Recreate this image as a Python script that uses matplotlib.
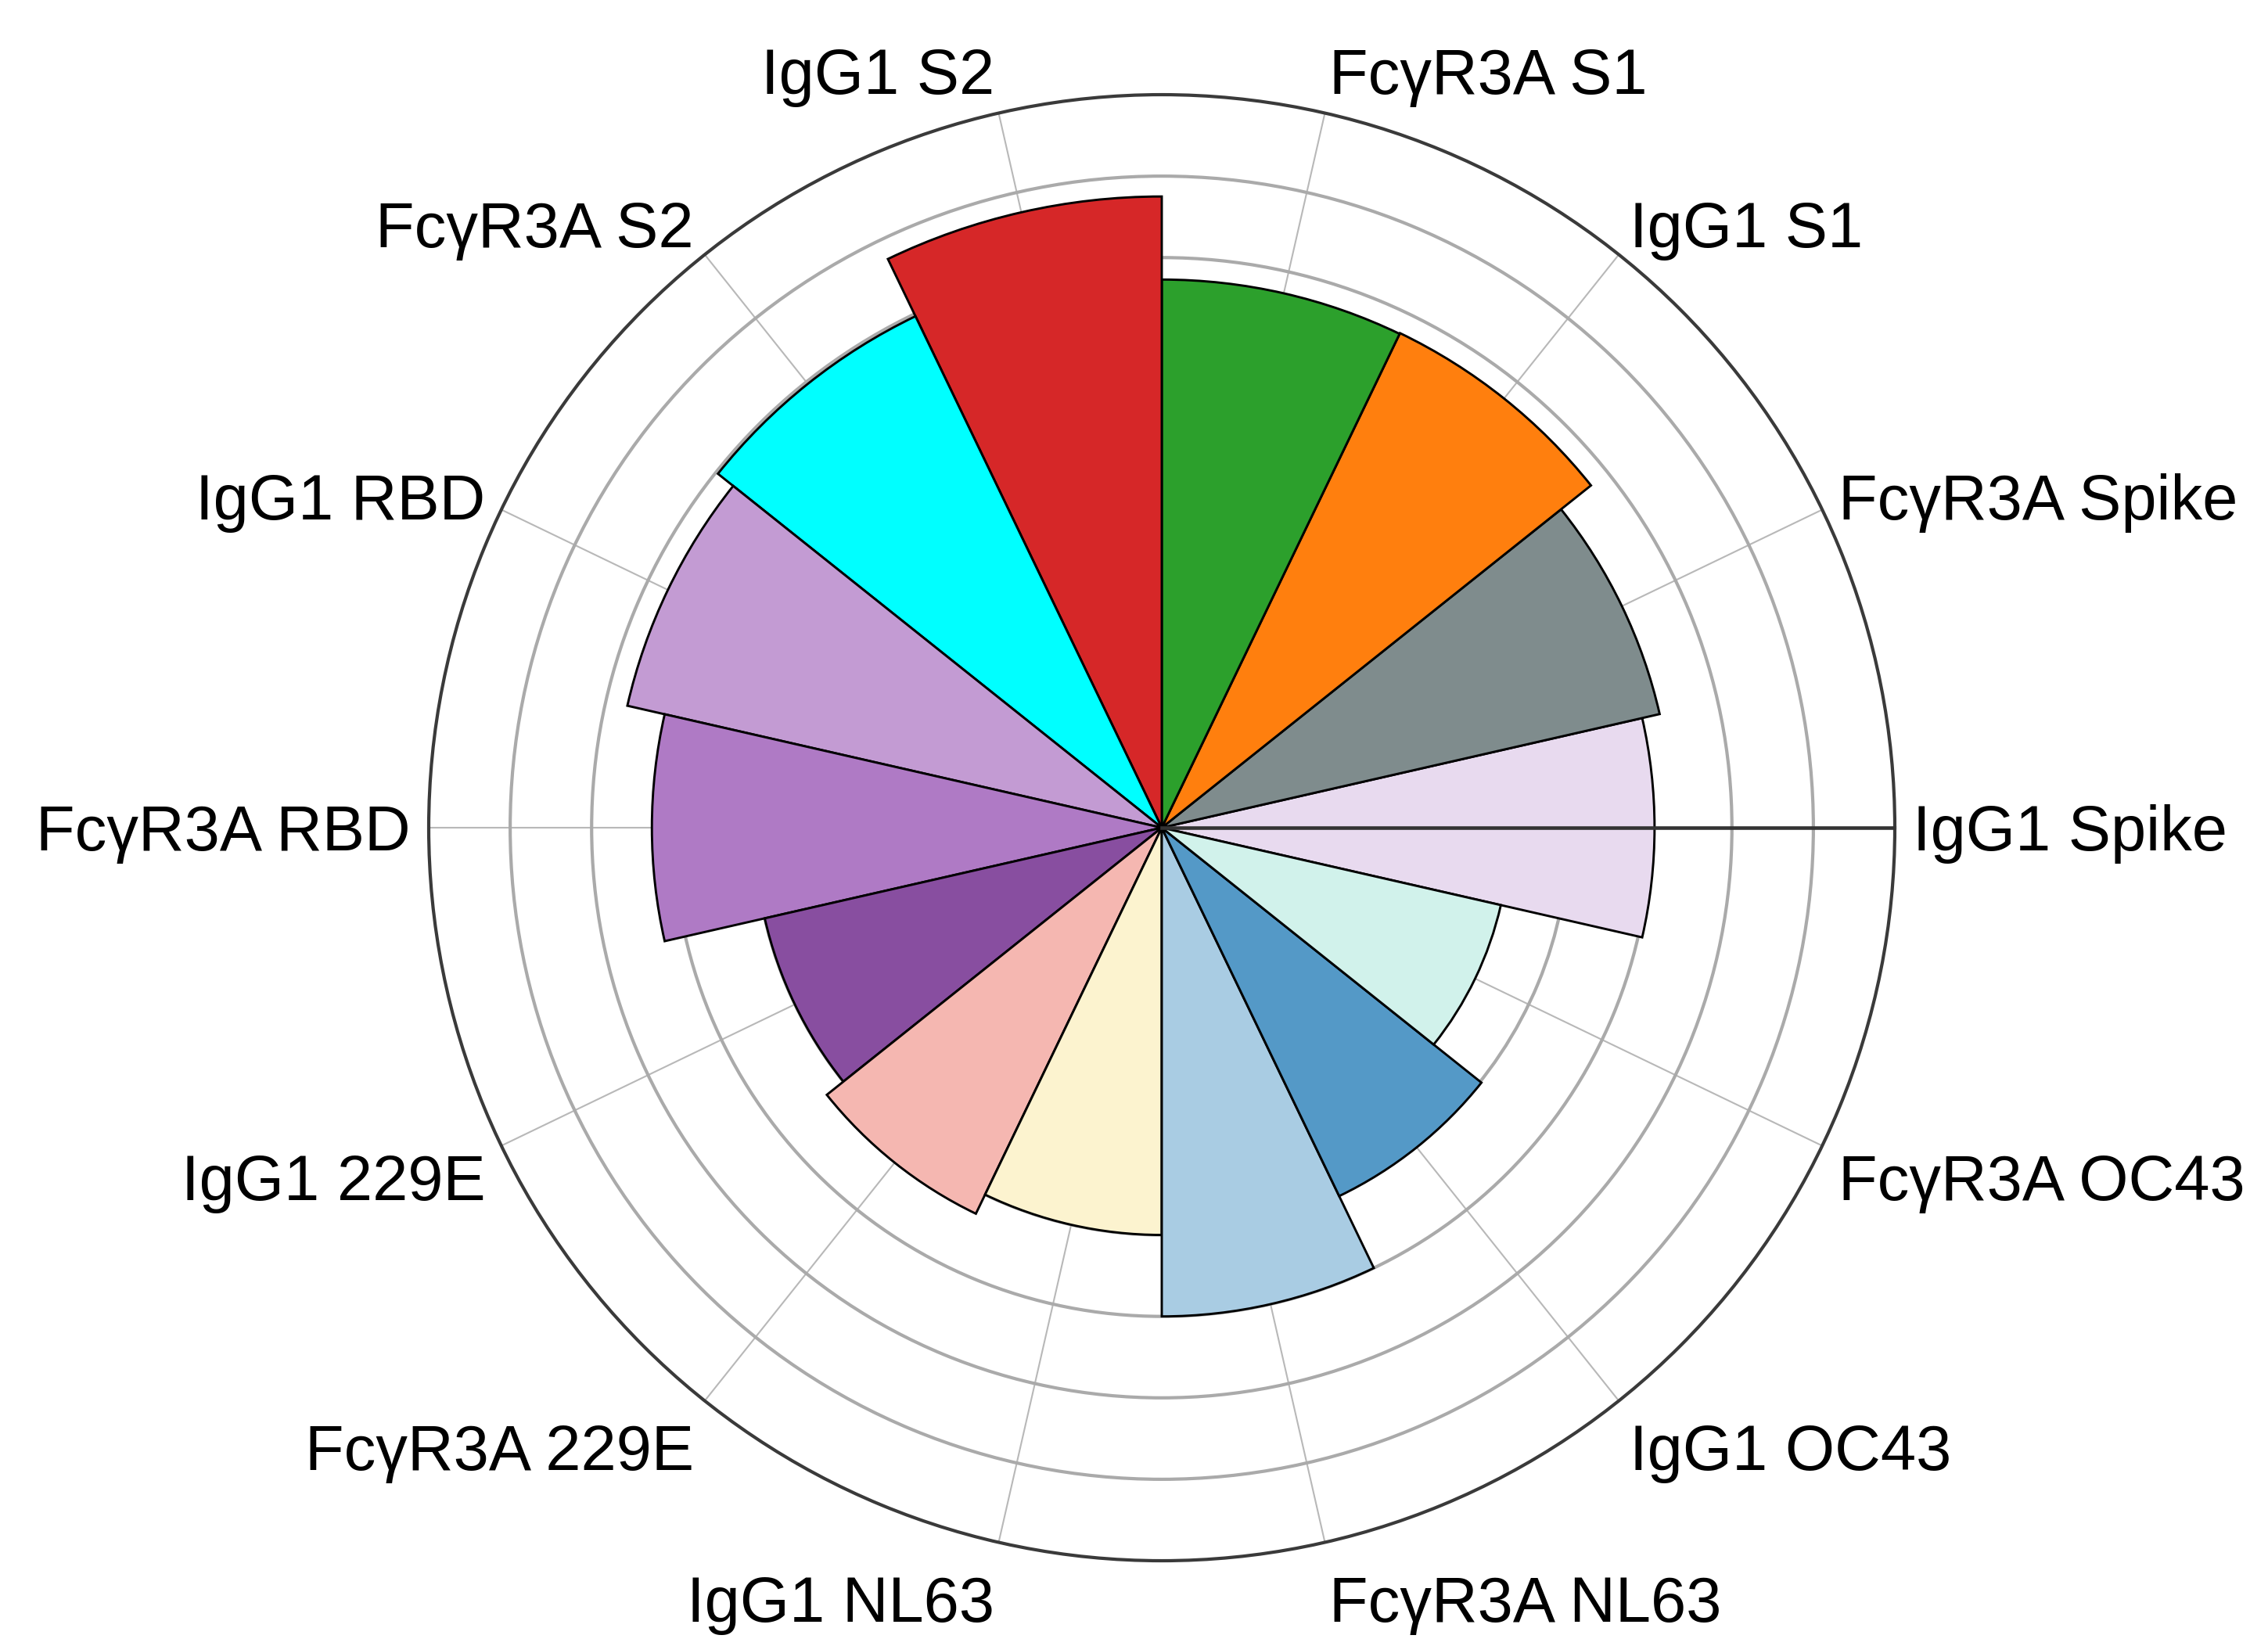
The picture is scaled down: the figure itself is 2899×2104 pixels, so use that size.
import numpy as np
import matplotlib
matplotlib.use("Agg")
import matplotlib.pyplot as plt

plt.rcParams['font.family'] = ['Liberation Sans', 'DejaVu Sans']

# data (counter-clockwise from 3 o'clock)
labels = ["IgG1 Spike", "FcγR3A Spike", "IgG1 S1", "FcγR3A S1",
          "IgG1 S2", "FcγR3A S2", "IgG1 RBD", "FcγR3A RBD",
          "IgG1 229E", "FcγR3A 229E", "IgG1 NL63", "FcγR3A NL63",
          "IgG1 OC43", "FcγR3A OC43"]
values = [6.05, 6.27, 6.74, 6.73, 7.75, 6.97, 6.73, 6.26,
          5.0, 5.26, 5.0, 6.0, 5.02, 4.27]
colors = ["#e8daef", "#7f8c8d", "#ff7f0e", "#2ca02c", "#d62728", "#00ffff",
          "#c39bd3", "#af7ac5", "#884ea0", "#f5b7b1", "#fcf3cf", "#a9cce3",
          "#5499c7", "#d1f2eb"]
r_ticks = [1, 2, 3, 4, 5, 6, 7, 8]
r_max = 9

n = len(labels)
theta = np.arange(n) * 2 * np.pi / n
FS = 19.5

fig = plt.figure(figsize=(2899 / 300, 2104 / 300), dpi=300)
ax = fig.add_axes([0.18903, 0.0518, 0.64643, 0.89068], projection='polar')

ax.bar(theta, values, width=2 * np.pi / n, bottom=0, color=colors,
       edgecolor='black', linewidth=0.7, zorder=2)

ax.set_ylim(0, r_max)
ax.set_yticks(r_ticks)
ax.set_yticklabels([])
ax.set_xticks(theta)
ax.set_xticklabels([])
ax.set_axisbelow(True)
ax.yaxis.grid(True, color='#aaaaaa', linewidth=1.0)
ax.xaxis.grid(True, color='#b8b8b8', linewidth=0.5)
ax.spines['polar'].set_color('#3a3a3a')
ax.spines['polar'].set_linewidth(1.0)
ax.tick_params(length=0)

# dark radial line at 0 degrees, drawn over the bars
ax.plot([0, 0], [0, r_max], color='#333333', linewidth=1.1, zorder=5)

# category labels around the outside
for ang, lab in zip(theta, labels):
    c, s = np.cos(ang), np.sin(ang)
    if s >= -1e-9:
        shift = 33 * s ** 2
    else:
        shift = -(26 + 25 * s ** 2)
    dx = 5.5 * c
    dy = 5.5 * s + shift * 0.24 - 0.358 * FS
    ha = 'left' if c > 1e-9 else 'right'
    ax.annotate(lab, xy=(ang, r_max), xytext=(dx, dy),
                textcoords='offset points', ha=ha, va='baseline',
                fontsize=FS, color='black', annotation_clip=False)

fig.savefig("out.png", dpi=300)
